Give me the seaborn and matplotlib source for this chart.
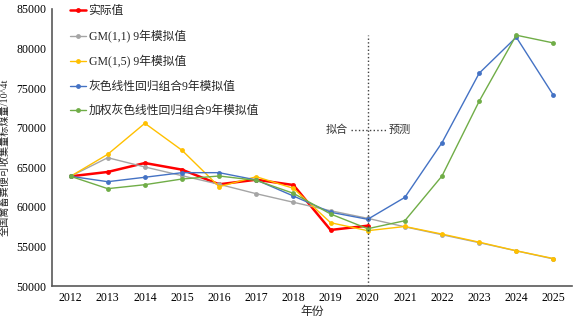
# 全国禽畜粪便可收集量标煤量: 实际值与各模型拟合/预测值

import numpy as np
import pandas as pd
import matplotlib
matplotlib.use("Agg")
import matplotlib.pyplot as plt
import seaborn as sns

years = list(range(2012, 2026))
actual_years = list(range(2012, 2021))

actual = [63860, 64410, 65540, 64700, 62850, 63430, 62760, 57080, 57620]
gm11 = [63860, 66210, 65040, 63940, 62850, 61660, 60580, 59510, 58550,
        57480, 56480, 55480, 54440, 53420]
gm15 = [63860, 66640, 70560, 67150, 62550, 63810, 62340, 58000, 56990,
        57520, 56560, 55540, 54450, 53470]
grey_lr = [63860, 63180, 63740, 64320, 64320, 63400, 61370, 59320, 58430,
           61200, 68110, 76880, 81440, 74100]
w_grey_lr = [63860, 62300, 62800, 63520, 63900, 63350, 61710, 59100, 57240,
             58250, 63900, 73340, 81690, 80710]

labels = ["实际值", "GM(1,1) 9年模拟值", "GM(1,5) 9年模拟值",
          "灰色线性回归组合9年模拟值", "加权灰色线性回归组合9年模拟值"]

sns.set_style("white")
plt.rcParams["font.family"] = ["Liberation Serif", "Noto Sans CJK SC"]
plt.rcParams["axes.unicode_minus"] = False

fig, ax = plt.subplots(figsize=(5.74, 3.18), dpi=100)
fig.subplots_adjust(left=0.0906, right=0.9965, bottom=0.1006, top=0.9717)

series = [
    (actual_years, actual, "#FF0000", 1.8),
    (years, gm11, "#A5A5A5", 1.0),
    (years, gm15, "#FFC000", 1.0),
    (years, grey_lr, "#4472C4", 1.0),
    (years, w_grey_lr, "#70AD47", 1.0),
]
for (xs, ys, color, lw), lab in zip(series, labels):
    sns.lineplot(x=xs, y=ys, ax=ax, color=color, linewidth=lw, marker="o",
                 markersize=3.5, markeredgewidth=0, label=lab)

# 拟合 / 预测 分界
ax.axvline(2020, ymin=0, ymax=0.906, color="#404040", linestyle=":", linewidth=1)
ax.plot([2019.55, 2020.48], [69700, 69700], color="#404040", linestyle=":", linewidth=1)
ax.text(2019.16, 69700, "拟合", ha="center", va="center", fontsize=8, color="#333333")
ax.text(2020.86, 69700, "预测", ha="center", va="center", fontsize=8, color="#333333")

ax.set_xlim(2011.5, 2025.5)
ax.set_ylim(50000, 85000)
ax.set_xticks(years)
ax.set_xticklabels([str(y) for y in years])
ax.set_yticks(np.arange(50000, 85001, 5000))
ax.tick_params(axis="both", length=0, labelsize=8.5, pad=4, colors="#000000")

for s in ["top", "right"]:
    ax.spines[s].set_visible(False)
for s in ["left", "bottom"]:
    ax.spines[s].set_color("#595959")
    ax.spines[s].set_linewidth(1.2)

ax.set_xlabel("年份", fontsize=8.5, labelpad=2)
ax.set_ylabel("全国禽畜粪便可收集量标煤量/10^4t", fontsize=7.3)
ax.yaxis.set_label_coords(-0.081, 0.466)

ax.legend(loc="upper left", bbox_to_anchor=(0.025, 1.03), frameon=False,
          fontsize=8.5, handlelength=1.4, handletextpad=0.2, labelspacing=1.05,
          borderaxespad=0)

fig.savefig("out.png", dpi=100)
